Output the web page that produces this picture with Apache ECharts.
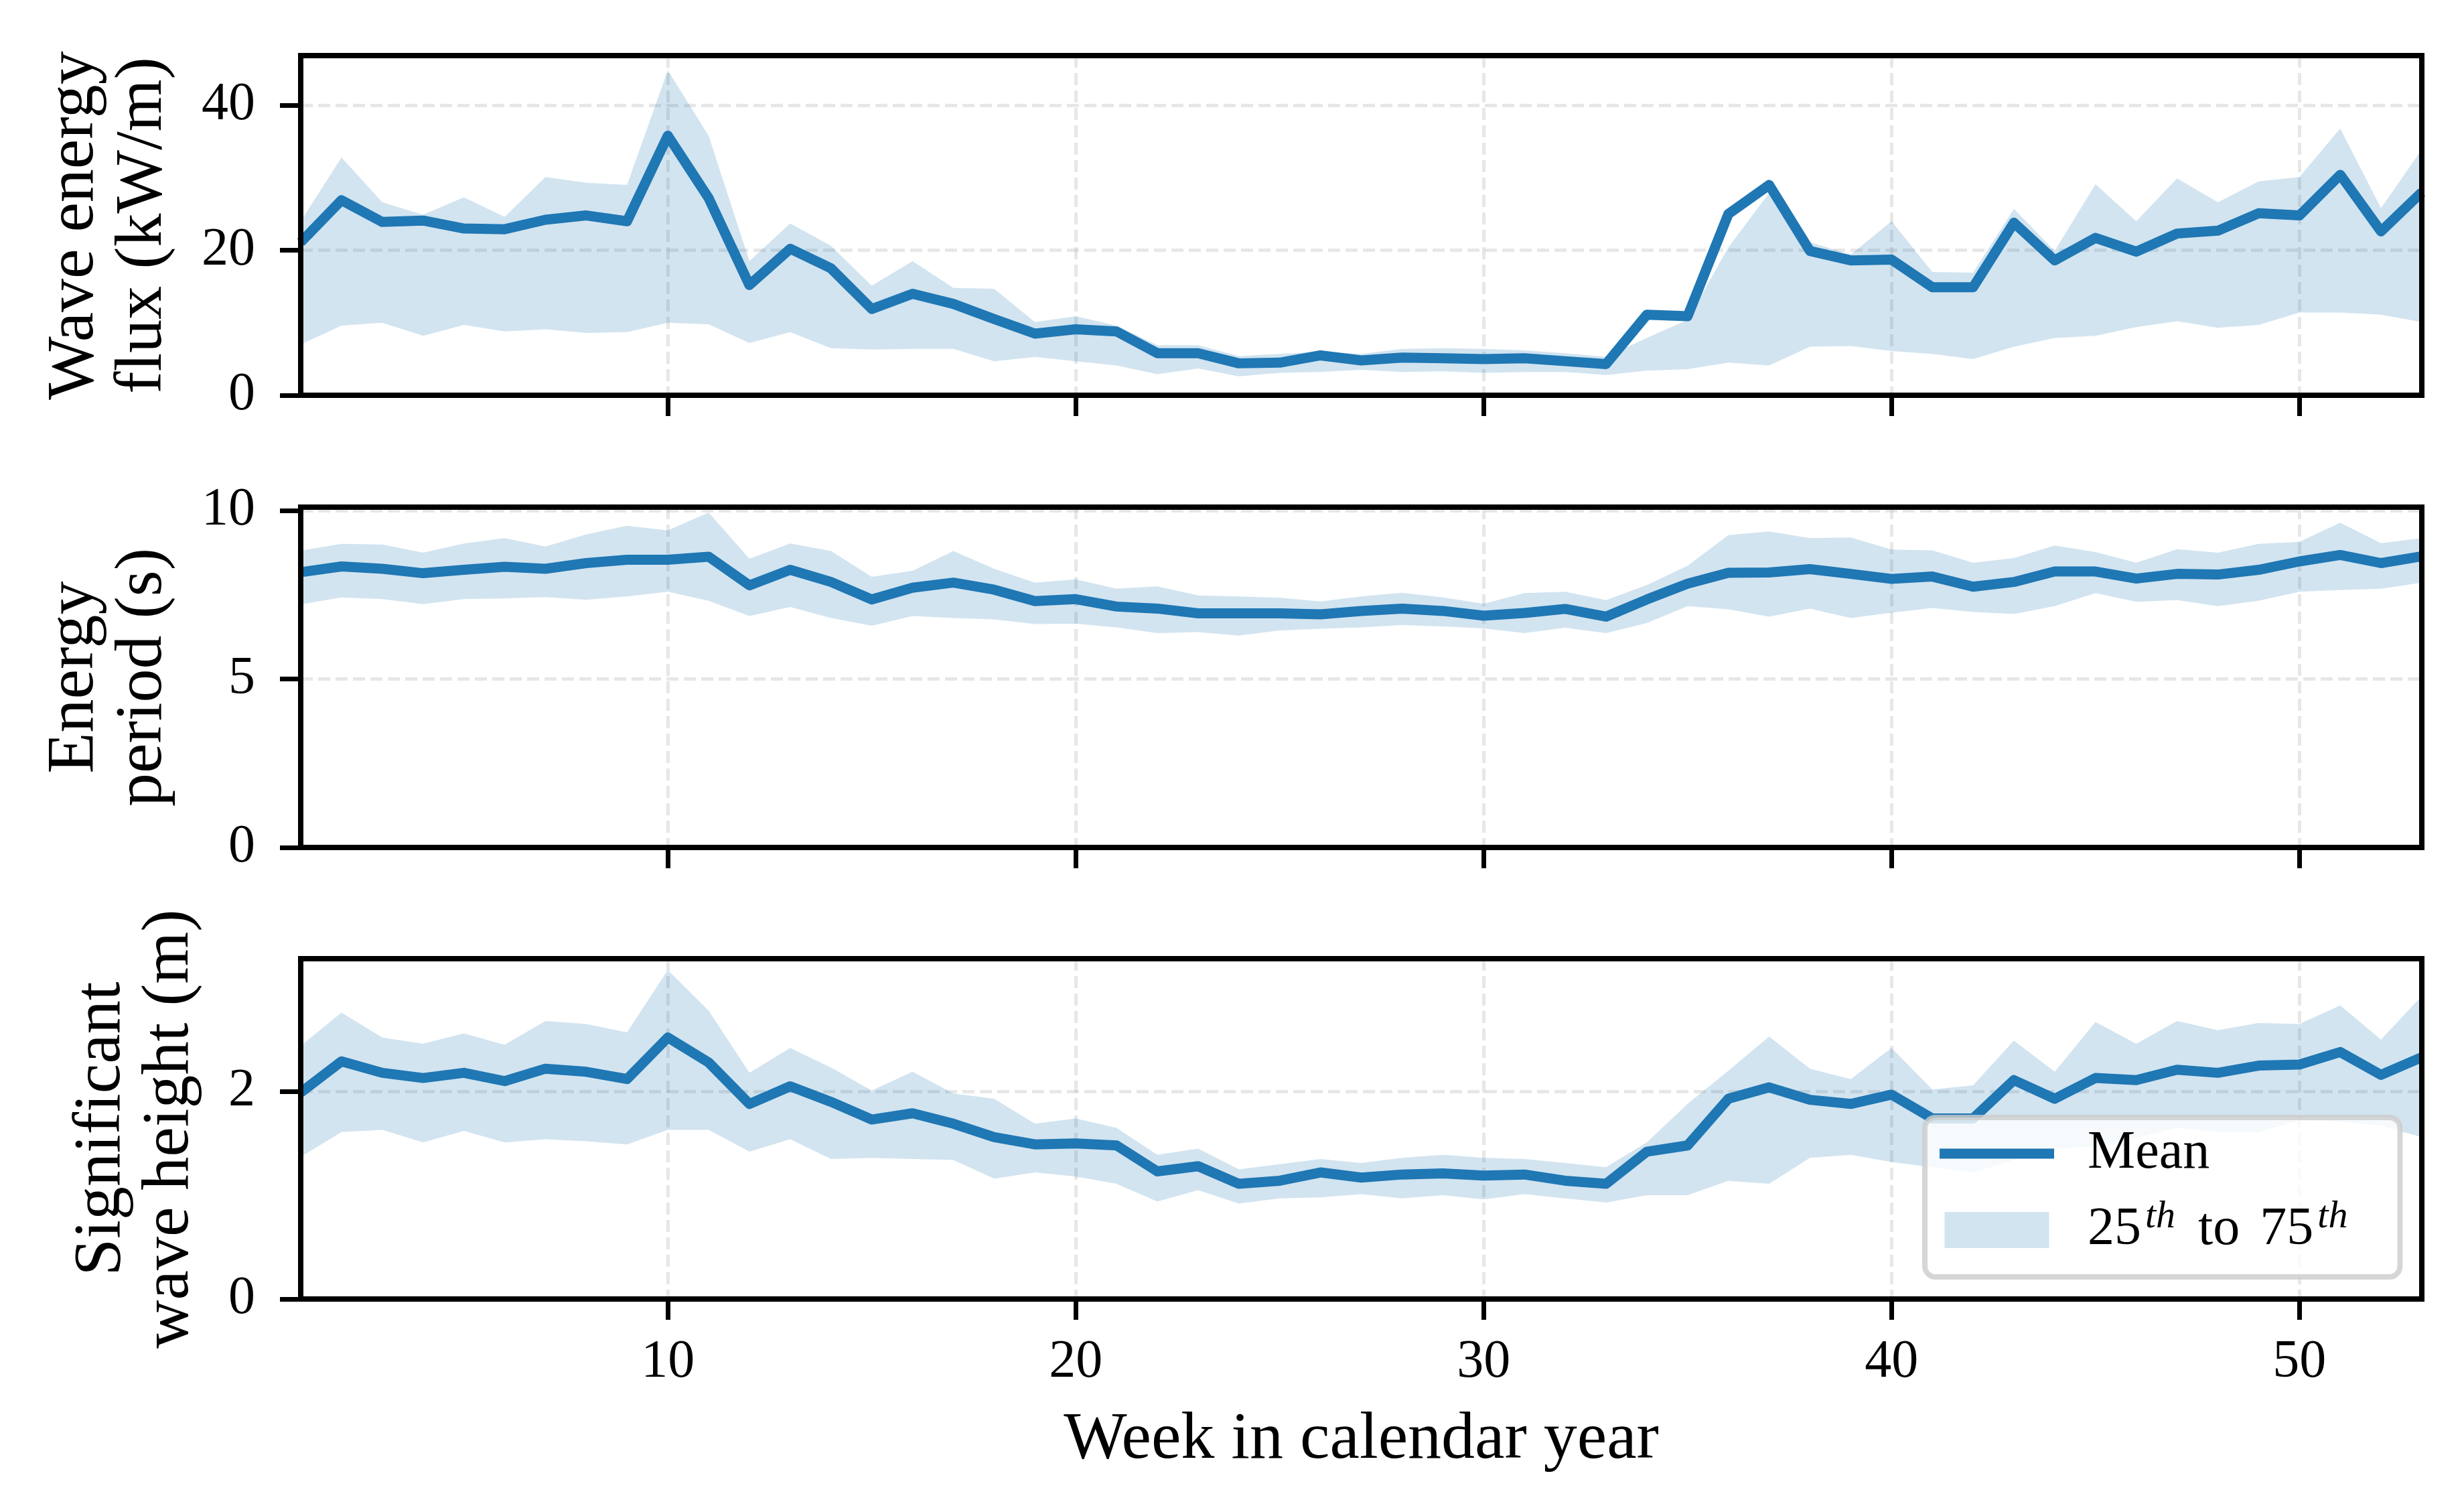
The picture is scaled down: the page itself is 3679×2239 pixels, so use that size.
<!DOCTYPE html>
<html>
<head>
<meta charset="utf-8">
<title>Weekly wave resource</title>
<script src="https://cdn.jsdelivr.net/npm/echarts@6/dist/echarts.min.js"></script>
<style>
  html, body { margin: 0; padding: 0; background: #fff; }
  #chart { width: 3679px; height: 2239px; }
</style>
</head>
<body>
<div id="chart"></div>
<script>
// week of the calendar year
const weeks = [1, 2, 3, 4, 5, 6, 7, 8, 9, 10, 11, 12, 13, 14, 15, 16, 17, 18, 19, 20,
  21, 22, 23, 24, 25, 26, 27, 28, 29, 30, 31, 32, 33, 34, 35, 36, 37, 38, 39, 40,
  41, 42, 43, 44, 45, 46, 47, 48, 49, 50, 51, 52, 53]

// wave energy flux (kW/m)
const fluxMean = [21.1, 26.9, 23.9, 24.1, 23.0, 22.9, 24.2, 24.8, 24.0, 35.8,
  27.2, 15.2, 20.2, 17.5, 11.9, 14.0, 12.6, 10.5, 8.5, 9.1,
  8.8, 5.8, 5.8, 4.4, 4.5, 5.5, 4.8, 5.2, 5.1, 5.0,
  5.1, 4.7, 4.3, 11.1, 10.9, 25.0, 29.0, 19.9, 18.6, 18.7,
  14.9, 14.9, 23.8, 18.6, 21.7, 19.8, 22.3, 22.7, 25.1, 24.8,
  30.4, 22.6, 28.0]
const fluxP25 = [7.0, 9.6, 10.0, 8.2, 9.7, 8.8, 9.1, 8.6, 8.7, 10.0,
  9.8, 7.2, 8.7, 6.5, 6.3, 6.4, 6.4, 4.7, 5.3, 4.7,
  4.1, 2.9, 3.7, 2.6, 3.1, 3.2, 3.5, 3.2, 3.3, 3.1,
  3.2, 3.2, 2.8, 3.4, 3.6, 4.5, 4.1, 6.7, 6.8, 6.1,
  5.7, 5.0, 6.7, 7.9, 8.2, 9.4, 10.2, 9.3, 9.7, 11.4,
  11.4, 11.1, 10.1]
const fluxP75 = [24.0, 32.8, 26.6, 24.9, 27.3, 24.6, 30.1, 29.3, 29.0, 44.8,
  35.8, 18.5, 23.7, 20.6, 15.1, 18.5, 14.8, 14.7, 10.1, 10.9,
  9.6, 6.9, 6.9, 5.4, 5.7, 6.0, 5.7, 6.4, 6.5, 6.4,
  6.2, 5.8, 5.3, 7.9, 10.4, 20.4, 27.9, 21.1, 19.4, 24.0,
  17.0, 16.9, 25.7, 19.9, 29.1, 24.0, 29.9, 26.6, 29.5, 30.1,
  36.8, 25.8, 33.9]

// energy period (s)
const periodMean = [8.17, 8.34, 8.27, 8.14, 8.24, 8.33, 8.27, 8.44, 8.54, 8.54,
  8.63, 7.78, 8.24, 7.88, 7.36, 7.71, 7.86, 7.65, 7.31, 7.37,
  7.15, 7.09, 6.95, 6.95, 6.95, 6.92, 7.02, 7.09, 7.02, 6.88,
  6.96, 7.08, 6.85, 7.36, 7.83, 8.15, 8.16, 8.26, 8.12, 7.97,
  8.04, 7.74, 7.88, 8.19, 8.19, 7.98, 8.12, 8.10, 8.24, 8.49,
  8.68, 8.44, 8.64]
const periodP25 = [7.21, 7.42, 7.37, 7.22, 7.37, 7.39, 7.43, 7.35, 7.45, 7.59,
  7.32, 6.87, 7.14, 6.81, 6.58, 6.87, 6.81, 6.77, 6.63, 6.64,
  6.53, 6.36, 6.39, 6.29, 6.44, 6.49, 6.53, 6.60, 6.56, 6.50,
  6.36, 6.52, 6.36, 6.66, 7.16, 7.07, 6.85, 7.09, 6.81, 6.97,
  7.11, 6.99, 6.93, 7.16, 7.55, 7.29, 7.34, 7.16, 7.32, 7.59,
  7.64, 7.68, 7.86]
const periodP75 = [8.81, 9.01, 8.99, 8.75, 9.02, 9.18, 8.93, 9.29, 9.55, 9.41,
  9.94, 8.57, 9.02, 8.80, 8.03, 8.21, 8.80, 8.27, 7.86, 7.96,
  7.68, 7.75, 7.48, 7.45, 7.41, 7.30, 7.45, 7.56, 7.42, 7.23,
  7.55, 7.59, 7.34, 7.79, 8.36, 9.27, 9.38, 9.18, 9.20, 8.84,
  8.82, 8.45, 8.59, 8.96, 8.77, 8.45, 8.85, 8.75, 9.01, 9.07,
  9.64, 9.03, 9.18]

// significant wave height (m)
const heightMean = [1.99, 2.29, 2.18, 2.13, 2.18, 2.10, 2.22, 2.19, 2.12, 2.52,
  2.28, 1.88, 2.05, 1.90, 1.73, 1.79, 1.69, 1.56, 1.49, 1.50,
  1.48, 1.23, 1.28, 1.11, 1.14, 1.22, 1.17, 1.20, 1.21, 1.19,
  1.20, 1.14, 1.11, 1.42, 1.48, 1.93, 2.04, 1.92, 1.88, 1.97,
  1.74, 1.74, 2.11, 1.93, 2.13, 2.11, 2.21, 2.18, 2.25, 2.26,
  2.38, 2.16, 2.33]
const heightP25 = [1.37, 1.61, 1.63, 1.51, 1.62, 1.51, 1.54, 1.52, 1.49, 1.63,
  1.63, 1.42, 1.54, 1.35, 1.36, 1.35, 1.34, 1.16, 1.22, 1.18,
  1.11, 0.94, 1.05, 0.92, 0.97, 0.98, 1.01, 0.97, 1.00, 0.96,
  1.01, 0.97, 0.93, 1.00, 1.00, 1.14, 1.11, 1.36, 1.39, 1.32,
  1.27, 1.22, 1.34, 1.45, 1.47, 1.55, 1.65, 1.61, 1.61, 1.72,
  1.71, 1.67, 1.56]
const heightP75 = [2.44, 2.76, 2.52, 2.46, 2.56, 2.45, 2.68, 2.65, 2.57, 3.17,
  2.78, 2.18, 2.42, 2.23, 2.01, 2.19, 1.98, 1.93, 1.69, 1.74,
  1.65, 1.39, 1.45, 1.25, 1.30, 1.35, 1.31, 1.36, 1.39, 1.36,
  1.35, 1.31, 1.27, 1.51, 1.88, 2.20, 2.53, 2.22, 2.12, 2.42,
  2.02, 2.06, 2.49, 2.19, 2.67, 2.46, 2.68, 2.59, 2.66, 2.65,
  2.83, 2.50, 2.92]

// tick labels
const weekTicks = [10, 20, 30, 40, 50]
const fluxTicks = [0, 20, 40]
const periodTicks = [0, 5, 10]
const heightTicks = [0, 2]

const FONT = "'Liberation Serif', 'DejaVu Serif', serif"
const BLUE = '#1f77b4'
const BAND = 'rgba(31,119,180,0.2)'
const GRIDLINE = { color: 'rgba(176,176,176,0.3)', width: 5, type: [18, 8] }

const panels = [
  { top: 83, height: 507, max: 46.84, step: 20, ticks: fluxTicks,
    mean: fluxMean, lo: fluxP25, hi: fluxP75,
    label: 'Wave energy\nflux (kW/m)', labelX: 163 },
  { top: 757, height: 508, max: 10.1, step: 5, ticks: periodTicks,
    mean: periodMean, lo: periodP25, hi: periodP75,
    label: 'Energy\nperiod (s)', labelX: 163 },
  { top: 1431, height: 508, max: 3.28, step: 2, ticks: heightTicks,
    mean: heightMean, lo: heightP25, hi: heightP75,
    label: 'Significant\nwave height (m)', labelX: 203 }
]

const pairs = vals => weeks.map((w, k) => [w, vals[k]])

// 25th-75th band: one polygon, upper edge forward then lower edge back
const bandRenderer = p => (params, api) => {
  if (params.dataIndex !== 0) return null
  const upper = weeks.map((w, k) => api.coord([w, p.hi[k]]))
  const lower = weeks.map((w, k) => api.coord([w, p.lo[k]])).reverse()
  return {
    type: 'polygon',
    shape: { points: upper.concat(lower) },
    style: { fill: BAND }
  }
}

const chart = echarts.init(document.getElementById('chart'), null, { renderer: 'canvas' })

const option = {
  animation: false,
  backgroundColor: '#fff',
  textStyle: { fontFamily: FONT, color: '#000' },
  grid: panels.map(p => ({
    left: 449, top: p.top, width: 3167, height: p.height,
    show: true, z: 10,
    borderColor: '#000', borderWidth: 8,
    backgroundColor: 'transparent',
    containLabel: false, outerBoundsMode: 'none'
  })),
  xAxis: panels.map((p, i) => ({
    gridIndex: i,
    type: 'value',
    min: 1,
    max: 53,
    axisLine: { show: false, onZero: false },
    axisTick: { show: true, length: 31, customValues: weekTicks,
      lineStyle: { color: '#000', width: 7 } },
    axisLabel: { show: i === 2, customValues: weekTicks, margin: 55,
      fontSize: 80, fontFamily: FONT, color: '#000' },
    splitLine: { show: true, lineStyle: GRIDLINE },
    name: i === 2 ? 'Week in calendar year' : '',
    nameLocation: 'middle',
    nameGap: 161,
    nameTextStyle: { fontSize: 100, fontFamily: FONT, color: '#000' }
  })),
  yAxis: panels.map((p, i) => ({
    gridIndex: i,
    type: 'value',
    min: 0,
    max: p.max,
    interval: p.step,
    axisLine: { show: false, onZero: false },
    axisTick: { show: true, length: 31, customValues: p.ticks,
      lineStyle: { color: '#000', width: 7 } },
    axisLabel: { customValues: p.ticks, margin: 68,
      fontSize: 80, fontFamily: FONT, color: '#000' },
    splitLine: { show: true, lineStyle: GRIDLINE }
  })),
  legend: {
    data: [
      { name: 'Mean', icon: 'path://M0,0H171V15H0Z' },
      { name: '25th to 75th', icon: 'path://M0,0H156V54H0Z' }
    ],
    orient: 'vertical',
    left: 2874,
    top: 1668,
    itemWidth: 171,
    itemHeight: 54,
    itemGap: 26,
    padding: [14, 72, 30, 22],
    backgroundColor: 'rgba(255,255,255,0.8)',
    borderColor: 'rgba(204,204,204,0.8)',
    borderWidth: 8,
    borderRadius: 16,
    selectedMode: false,
    formatter: name => name === 'Mean' ? 'Mean' : '25{sup|th}{to|to}75{sup|th}',
    textStyle: {
      fontFamily: FONT, fontSize: 80, color: '#000', lineHeight: 54,
      padding: [0, 0, 0, 45],
      rich: {
        sup: { fontFamily: FONT, fontSize: 58, fontStyle: 'italic', color: '#000',
          height: 16, verticalAlign: 'top', padding: [0, 6, 0, 6] },
        to: { fontFamily: FONT, fontSize: 80, color: '#000', padding: [0, 30, 0, 28] }
      }
    }
  },
  graphic: panels.map(p => ({
    type: 'text',
    x: p.labelX,
    y: p.top + p.height / 2,
    rotation: Math.PI / 2,
    style: {
      text: p.label,
      fontSize: 100,
      fontFamily: FONT,
      fill: '#000',
      lineHeight: 102,
      align: 'center',
      verticalAlign: 'middle'
    }
  })),
  series: panels.flatMap((p, i) => [
    {
      name: '25th to 75th',
      type: 'custom',
      xAxisIndex: i, yAxisIndex: i,
      data: weeks.map((w, k) => [w, p.lo[k], p.hi[k]]),
      encode: { x: 0, y: [1, 2] },
      renderItem: bandRenderer(p),
      itemStyle: { color: BAND },
      clip: true,
      silent: true,
      z: 1
    },
    {
      name: 'Mean',
      type: 'line',
      xAxisIndex: i, yAxisIndex: i,
      data: pairs(p.mean),
      symbol: 'none',
      silent: true,
      itemStyle: { color: BLUE },
      lineStyle: { color: BLUE, width: 15, join: 'round' },
      z: 3
    }
  ])
}

chart.setOption(option)
</script>
</body>
</html>
